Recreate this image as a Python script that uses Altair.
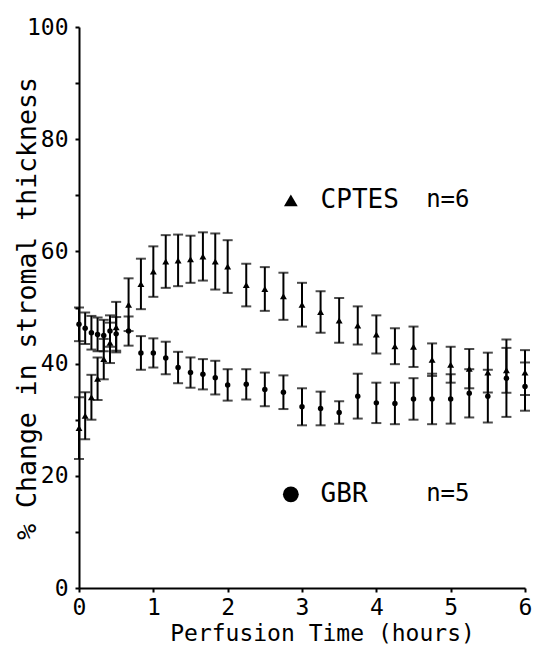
import altair as alt
import pandas as pd

# Perfusion time (hours)
times = [0, 0.083, 0.167, 0.25, 0.333, 0.417, 0.5, 0.667, 0.833, 1.0, 1.167,
         1.333, 1.5, 1.667, 1.833, 2.0, 2.25, 2.5, 2.75, 3.0, 3.25, 3.5, 3.75,
         4.0, 4.25, 4.5, 4.75, 5.0, 5.25, 5.5, 5.75, 6.0]

cptes_mean = [28.5, 30.7, 34.0, 37.3, 40.8, 43.7, 46.5, 50.5, 54.2, 56.4, 58.2,
              58.4, 58.6, 59.1, 58.2, 57.3, 54.0, 53.3, 52.0, 50.5, 49.2, 47.7,
              46.8, 45.2, 43.1, 43.0, 40.7, 39.8, 39.1, 38.4, 38.8, 38.4]
cptes_err = [5.5, 4.2, 4.0, 3.8, 3.6, 3.6, 4.5, 4.7, 4.5, 4.5, 4.7,
             4.6, 4.2, 4.3, 5.0, 4.7, 3.8, 3.9, 4.2, 3.9, 3.7, 4.0,
             3.4, 3.4, 3.2, 3.6, 2.9, 3.2, 3.5, 3.55, 4.0, 4.0]

gbr_mean = [47.0, 46.3, 45.5, 45.2, 45.0, 45.8, 45.3, 45.8, 41.9, 41.9, 41.0,
            39.3, 38.4, 38.1, 37.5, 36.2, 36.3, 35.4, 34.9, 32.3, 32.0, 31.3,
            34.2, 33.0, 32.9, 33.7, 33.7, 33.7, 34.7, 34.2, 37.4, 35.9]
gbr_err = [3.0, 2.8, 3.0, 3.0, 2.8, 2.8, 3.0, 2.6, 3.0, 2.6, 2.9,
           2.8, 2.7, 2.7, 3.0, 2.8, 2.7, 3.0, 3.0, 3.3, 3.0, 2.0,
           4.0, 3.6, 3.7, 3.7, 4.5, 4.4, 4.3, 4.7, 6.9, 4.3]

series_names = ["CPTES", "GBR"]
series_n = ["n=6", "n=5"]

rows = []
for t, m, e in zip(times, cptes_mean, cptes_err):
    rows.append({"t": t, "mean": m, "lo": m - e, "hi": m + e, "series": "CPTES"})
for t, m, e in zip(times, gbr_mean, gbr_err):
    rows.append({"t": t, "mean": m, "lo": m - e, "hi": m + e, "series": "GBR"})
df = pd.DataFrame(rows)

# annotation (key) placement in data units
key_df = pd.DataFrame({
    "series": series_names,
    "label": series_names,
    "n": series_n,
    "mx": [2.85, 2.85],
    "tx": [3.25, 3.25],
    "nx": [4.67, 4.67],
    "y": [69.1, 16.7],
})

FONT = "DejaVu Sans Mono"
xs = alt.Scale(domain=[0, 6], nice=False, zero=False)
ys = alt.Scale(domain=[0, 100], nice=False)

x_axis = alt.Axis(values=[0, 1, 2, 3, 4, 5, 6], format="d", title="Perfusion Time (hours)",
                  grid=False, domainColor="black", domainWidth=2,
                  tickColor="black", tickWidth=2, tickSize=4,
                  labelFont=FONT, labelFontSize=23, labelColor="black",
                  labelPadding=4, labelFlush=False,
                  titleFont=FONT, titleFontSize=23, titleFontWeight="normal",
                  titleColor="black", titleX=243, titleY=45,
                  titleAlign="center", titleBaseline="middle")
y_axis = alt.Axis(values=list(range(0, 101, 10)),
                  labelExpr="datum.value % 20 == 0 ? datum.label : ''",
                  title="% Change in stromal thickness",
                  grid=False, domainColor="black", domainWidth=2,
                  tickColor="black", tickWidth=2, tickSize=4,
                  labelFont=FONT, labelFontSize=23, labelColor="black",
                  labelPadding=7, labelFlush=False,
                  titleFont=FONT, titleFontSize=26.5, titleFontWeight="normal",
                  titleColor="black", titleX=-52, titleY=281, titleAngle=270,
                  titleAlign="center", titleBaseline="middle")

base = alt.Chart(df)

bars = base.mark_rule(color="black", strokeWidth=2).encode(
    x=alt.X("t:Q", scale=xs, axis=x_axis),
    y=alt.Y("lo:Q", scale=ys, axis=y_axis),
    y2="hi:Q",
)
cap_lo = base.mark_tick(color="black", orient="horizontal", size=10, thickness=2).encode(
    x=alt.X("t:Q", scale=xs), y=alt.Y("lo:Q", scale=ys))
cap_hi = base.mark_tick(color="black", orient="horizontal", size=10, thickness=2).encode(
    x=alt.X("t:Q", scale=xs), y=alt.Y("hi:Q", scale=ys))

tri = base.transform_filter(alt.datum.series == "CPTES").mark_point(
    shape="triangle-up", filled=True, color="black", size=48, opacity=1).encode(
    x=alt.X("t:Q", scale=xs), y=alt.Y("mean:Q", scale=ys))
dot = base.transform_filter(alt.datum.series == "GBR").mark_point(
    shape="circle", filled=True, color="black", size=30, opacity=1).encode(
    x=alt.X("t:Q", scale=xs), y=alt.Y("mean:Q", scale=ys))

kbase = alt.Chart(key_df)
key_tri = kbase.transform_filter(alt.datum.series == "CPTES").mark_point(
    shape="triangle-up", filled=True, color="black", size=190, opacity=1).encode(
    x=alt.X("mx:Q", scale=xs), y=alt.Y("y:Q", scale=ys))
key_dot = kbase.transform_filter(alt.datum.series == "GBR").mark_point(
    shape="circle", filled=True, color="black", size=250, opacity=1).encode(
    x=alt.X("mx:Q", scale=xs), y=alt.Y("y:Q", scale=ys))
key_txt = kbase.mark_text(font=FONT, fontSize=26, align="left", baseline="middle",
                          color="black").encode(
    x=alt.X("tx:Q", scale=xs), y=alt.Y("y:Q", scale=ys), text="label:N")
key_n = kbase.mark_text(font=FONT, fontSize=24, align="left", baseline="middle",
                        color="black").encode(
    x=alt.X("nx:Q", scale=xs), y=alt.Y("y:Q", scale=ys), text="n:N")

chart = alt.layer(bars, cap_lo, cap_hi, tri, dot, key_tri, key_dot, key_txt, key_n).properties(
    width=446, height=561,
    autosize=alt.AutoSizeParams(type="none"),
    padding={"left": 71, "top": 19, "right": 7, "bottom": 56},
    background="white",
).configure_view(stroke=None)

chart.save("out.html", embed_options={"renderer": "svg", "actions": False})
